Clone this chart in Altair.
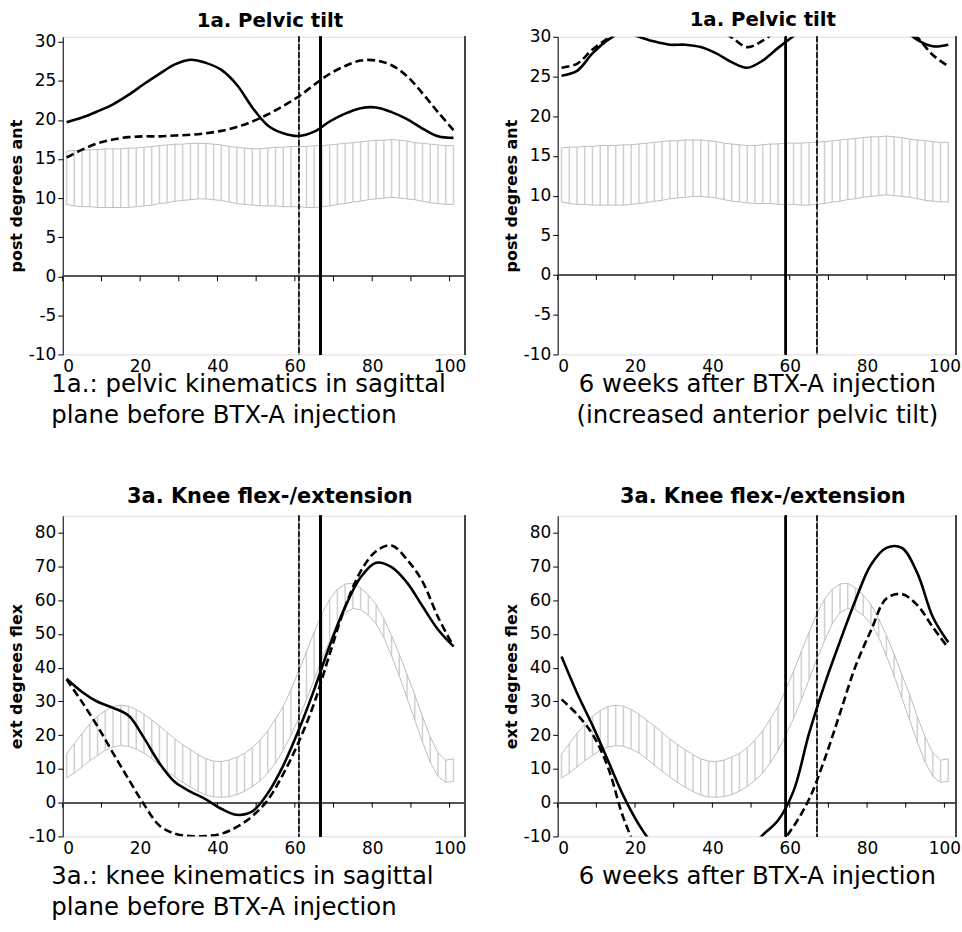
import altair as alt
import pandas as pd

FONT = "DejaVu Sans"

# ---------------- data ----------------
x_band = list(range(1, 102, 2))      # normal-range samples (every 2 % of gait cycle)
x_curve = list(range(1, 102, 4))     # patient curve samples
x_tick_marks = [0, 10, 20, 30, 40, 50, 60, 70, 80, 90, 100]
x_labels = [0, 20, 40, 60, 80, 100]
pelvic_ticks = [-10, -5, 0, 5, 10, 15, 20, 25, 30]
knee_ticks = [-10, 0, 10, 20, 30, 40, 50, 60, 70, 80]

pelvic_upper = [16.0, 16.1, 16.1, 16.2, 16.2, 16.3, 16.3, 16.3, 16.4, 16.4,
                16.5, 16.6, 16.7, 16.8, 16.9, 16.9, 17.0, 17.0, 17.0, 16.9,
                16.8, 16.6, 16.5, 16.4, 16.3, 16.3, 16.4, 16.5, 16.5, 16.6,
                16.6, 16.6, 16.7, 16.7, 16.8, 16.9, 17.0, 17.1, 17.2, 17.3,
                17.4, 17.4, 17.5, 17.4, 17.3, 17.1, 17.0, 16.9, 16.8, 16.7,
                16.7]
pelvic_lower = [9.2, 9.0, 8.9, 8.9, 8.8, 8.8, 8.8, 8.8, 8.8, 8.9,
                9.0, 9.1, 9.3, 9.4, 9.6, 9.7, 9.8, 9.9, 9.9, 9.8,
                9.7, 9.5, 9.3, 9.2, 9.1, 9.0, 9.0, 9.0, 8.9, 8.9,
                8.9, 8.8, 8.8, 8.9, 9.0, 9.2, 9.3, 9.5, 9.6, 9.8,
                9.9, 10.0, 10.1, 10.0, 9.9, 9.8, 9.6, 9.4, 9.3, 9.2,
                9.2]
knee_upper = [14.4, 17.5, 20.5, 23.3, 25.6, 27.3, 28.5, 28.9, 28.6, 27.6,
              26.2, 24.5, 22.7, 20.8, 18.9, 17.2, 15.7, 14.2, 13.0, 12.3,
              12.2, 12.6, 13.5, 14.6, 16.3, 18.5, 21.3, 24.8, 28.5, 33.5,
              39.0, 44.8, 50.5, 56.0, 60.3, 63.2, 64.8, 65.0, 63.6, 61.5,
              58.7, 54.5, 49.5, 44.0, 38.0, 32.0, 25.5, 19.5, 14.8, 12.6,
              13.0]
knee_lower = [7.3, 8.8, 10.6, 12.4, 14.0, 15.5, 16.5, 16.9, 16.7, 15.9,
              14.7, 13.0, 11.1, 9.3, 7.6, 6.0, 4.6, 3.3, 2.3, 1.7,
              1.6, 1.8, 2.4, 3.4, 4.8, 6.5, 8.8, 11.8, 15.5, 20.0,
              25.0, 30.5, 36.5, 42.5, 48.0, 53.0, 56.3, 57.5, 57.2, 55.5,
              53.0, 49.0, 43.5, 37.5, 31.0, 24.5, 18.0, 12.0, 7.8, 6.0,
              6.3]

pelvic_before_solid = [19.7, 20.3, 21.1, 22.0, 23.2, 24.6, 25.9, 27.1, 27.7, 27.3,
                       26.4, 24.5, 21.6, 19.3, 18.3, 17.95, 18.5, 19.8, 20.8, 21.5,
                       21.6, 21.0, 20.1, 18.9, 17.9, 17.7]
pelvic_before_dashed = [15.2, 16.2, 17.0, 17.5, 17.8, 17.9, 17.9, 18.0, 18.1, 18.3,
                        18.6, 19.1, 19.8, 20.7, 21.8, 23.0, 24.5, 25.9, 26.9, 27.6,
                        27.6, 27.0, 25.6, 23.4, 21.0, 18.7]
pelvic_after_solid = [25.1, 25.7, 27.9, 29.6, 30.6, 30.0, 29.4, 29.0, 29.0, 28.7,
                      27.9, 26.8, 26.1, 27.0, 28.6, 30.1, 31.5, 32.8, 33.6, 33.8,
                      33.5, 32.7, 31.2, 29.6, 28.8, 29.0]
pelvic_after_dashed = [26.1, 26.6, 28.4, 29.8, 31.0, 31.5, 31.6, 31.5, 31.4, 31.4,
                       31.0, 29.9, 28.7, 29.5, 31.0, 32.5, 33.5, 34.2, 34.5, 34.5,
                       34.0, 33.0, 31.5, 29.9, 27.7, 26.3]
knee_before_solid = [36.7, 32.8, 29.9, 28.1, 25.8, 19.2, 11.7, 6.1, 3.3, 1.0,
                     -1.8, -3.6, -2.6, 2.8, 11.0, 21.5, 33.5, 46.5, 58.0, 66.8,
                     71.1, 69.8, 65.2, 58.2, 51.3, 46.3]
knee_before_dashed = [36.5, 29.8, 22.6, 14.7, 7.0, -0.5, -6.8, -9.2, -9.9, -9.9,
                      -9.2, -7.2, -4.0, 0.8, 8.5, 18.0, 29.5, 44.0, 58.0, 68.5,
                      74.5, 76.2, 72.0, 65.5, 55.0, 46.3]
knee_after_solid = [43.3, 32.5, 22.9, 12.5, 2.0, -6.5, -13.0, -18.0, -21.0, -22.0,
                    -21.5, -19.0, -14.5, -9.6, -5.2, 3.5, 20.5, 35.0, 47.8, 60.0,
                    70.5, 75.5, 75.5, 68.0, 55.0, 47.5]
knee_after_dashed = [30.6, 26.2, 20.3, 10.5, -4.5, -15.0, -22.0, -27.0, -29.0, -29.5,
                     -28.5, -26.0, -22.0, -17.5, -13.0, -7.0, 1.0, 12.8, 26.5, 40.4,
                     51.0, 60.5, 61.8, 58.5, 52.0, 45.8]

# toe-off markers (% gait cycle)
before_solid_event = 66.6
before_dashed_event = 61.0
after_solid_event = 59.0
after_dashed_event = 67.0

panel_titles = ["1a. Pelvic tilt", "3a. Knee flex-/extension"]
y_titles = ["post degrees ant", "ext degrees flex"]
captions = {
    "tl": ["1a.: pelvic kinematics in sagittal", "plane before BTX-A injection"],
    "tr": ["6 weeks after BTX-A injection", "(increased anterior pelvic tilt)"],
    "bl": ["3a.: knee kinematics in sagittal", "plane before BTX-A injection"],
    "br": ["6 weeks after BTX-A injection", " "],
}


def panel(title, title_size, title_offset, ytitle, caption, cap_left, cap_y,
          ydom, yticks, xmax, width, height, band_u, band_l, solid, dashed,
          ev_solid, ev_dashed):
    band_df = pd.DataFrame({"x": x_band, "lo": band_l, "hi": band_u})
    curve_df = pd.DataFrame({"x": x_curve, "solid": solid, "dashed": dashed})
    tick_df = pd.DataFrame({"t": x_tick_marks})
    xs = alt.Scale(domain=[0, xmax], nice=False, zero=False)
    ys = alt.Scale(domain=ydom, nice=False, zero=False)

    x_axis = alt.Axis(
        values=x_labels, labelFont=FONT, labelFontSize=17, labelColor="black",
        labelOverlap=False,
        ticks=False, tickSize=0, domain=False, grid=False, labelPadding=4,
        title=caption, titleFont=FONT, titleFontSize=24.5, titleFontWeight="normal",
        titleColor="black", titleAlign="left" if cap_left else "center",
        titleX=-12 if cap_left else width / 2, titleY=cap_y,
        titleBaseline="alphabetic", titleLineHeight=31, titleLimit=1000,
    )
    y_axis = alt.Axis(
        values=yticks, labelFont=FONT, labelFontSize=17, labelColor="black",
        labelExpr="'' + datum.value", labelOverlap=False,
        tickColor="black", tickSize=5, domainColor="black", domainWidth=1,
        grid=False, labelPadding=2,
        title=ytitle, titleFont=FONT, titleFontSize=16, titleFontWeight="bold",
        titleColor="black", titleX=-46, titleY=height / 2, titleAngle=270,
        titleBaseline="middle", titleAlign="center",
    )

    def X(field):
        return alt.X(field, type="quantitative", scale=xs, axis=x_axis)

    def Y(field):
        return alt.Y(field, type="quantitative", scale=ys, axis=y_axis)

    hatch = alt.Chart(band_df).mark_rule(color="#d0d0d0", strokeWidth=1.5).encode(
        x=X("x"), y=Y("lo"), y2="hi:Q")
    upper = alt.Chart(band_df).mark_line(color="#bdbdbd", strokeWidth=1).encode(
        x=X("x"), y=Y("hi"))
    lower = alt.Chart(band_df).mark_line(color="#bdbdbd", strokeWidth=1).encode(
        x=X("x"), y=Y("lo"))
    zero = alt.Chart(tick_df).mark_rule(color="#555555", strokeWidth=1.6).encode(
        y=alt.YDatum(0, type="quantitative", scale=ys, axis=y_axis))
    zticks = alt.Chart(tick_df).mark_rule(color="black", strokeWidth=1, y2Offset=5).encode(
        x=X("t"), y=alt.YDatum(0, type="quantitative", scale=ys, axis=y_axis),
        y2=alt.datum(0))
    ev_dash_bg = alt.Chart(tick_df).mark_rule(color="#a0a0a0", strokeWidth=1).encode(
        x=alt.XDatum(ev_dashed, type="quantitative", scale=xs, axis=x_axis))
    ev_dash = alt.Chart(tick_df).mark_rule(color="#222222", strokeWidth=1,
                                           strokeDash=[5, 3]).encode(
        x=alt.XDatum(ev_dashed, type="quantitative", scale=xs, axis=x_axis))
    ev_solid_rule = alt.Chart(tick_df).mark_rule(color="black", strokeWidth=2).encode(
        x=alt.XDatum(ev_solid, type="quantitative", scale=xs, axis=x_axis))
    line_solid = alt.Chart(curve_df).mark_line(
        color="black", strokeWidth=2.6, interpolate="catmull-rom", clip=True).encode(
        x=X("x"), y=Y("solid"))
    line_dashed = alt.Chart(curve_df).mark_line(
        color="black", strokeWidth=2.6, strokeDash=[8, 4], interpolate="catmull-rom",
        clip=True).encode(
        x=X("x"), y=Y("dashed"))
    right_border = alt.Chart(tick_df).mark_rule(color="#444444", strokeWidth=1.5).encode(
        x=alt.value(width), y=alt.value(0), y2=alt.value(height))

    return alt.layer(
        hatch, upper, lower, zero, zticks, ev_dash_bg, ev_dash, ev_solid_rule,
        line_dashed, line_solid, right_border,
    ).properties(
        width=width, height=height,
        title=alt.TitleParams(title, font=FONT, fontSize=title_size, fontWeight="bold",
                              color="black", frame="group", anchor="middle",
                              offset=title_offset, dx=6),
    )


tl = panel(panel_titles[0], 19.8, 2, y_titles[0], captions["tl"], True, 37,
           [-10, 30.64], pelvic_ticks, 104, 404, 319, pelvic_upper, pelvic_lower,
           pelvic_before_solid, pelvic_before_dashed,
           before_solid_event, before_dashed_event)
tr = panel(panel_titles[0], 19.8, -2, y_titles[0], captions["tr"], False, 37,
           [-10, 30], pelvic_ticks, 103, 400, 319, pelvic_upper, pelvic_lower,
           pelvic_after_solid, pelvic_after_dashed,
           after_solid_event, after_dashed_event)
bl = panel(panel_titles[1], 21, 8, y_titles[1], captions["bl"], True, 47,
           [-10, 85], knee_ticks, 104, 404, 322, knee_upper, knee_lower,
           knee_before_solid, knee_before_dashed,
           before_solid_event, before_dashed_event)
br = panel(panel_titles[1], 21, 8, y_titles[1], captions["br"], False, 47,
           [-10, 85], knee_ticks, 103, 400, 322, knee_upper, knee_lower,
           knee_after_solid, knee_after_dashed,
           after_solid_event, after_dashed_event)

left_col = alt.vconcat(tl, bl, spacing=58)
right_col = alt.vconcat(tr, br, spacing=58)

chart = alt.hconcat(left_col, right_col, spacing=36).properties(
    padding={"left": 8, "top": 7, "right": 0, "bottom": 0},
    background="white",
).configure_view(stroke="#b8b8b8", strokeWidth=1).configure_axis(
    labelOverlap=False
).configure(font=FONT)

chart.save("out.html", embed_options={"renderer": "svg", "actions": False})
